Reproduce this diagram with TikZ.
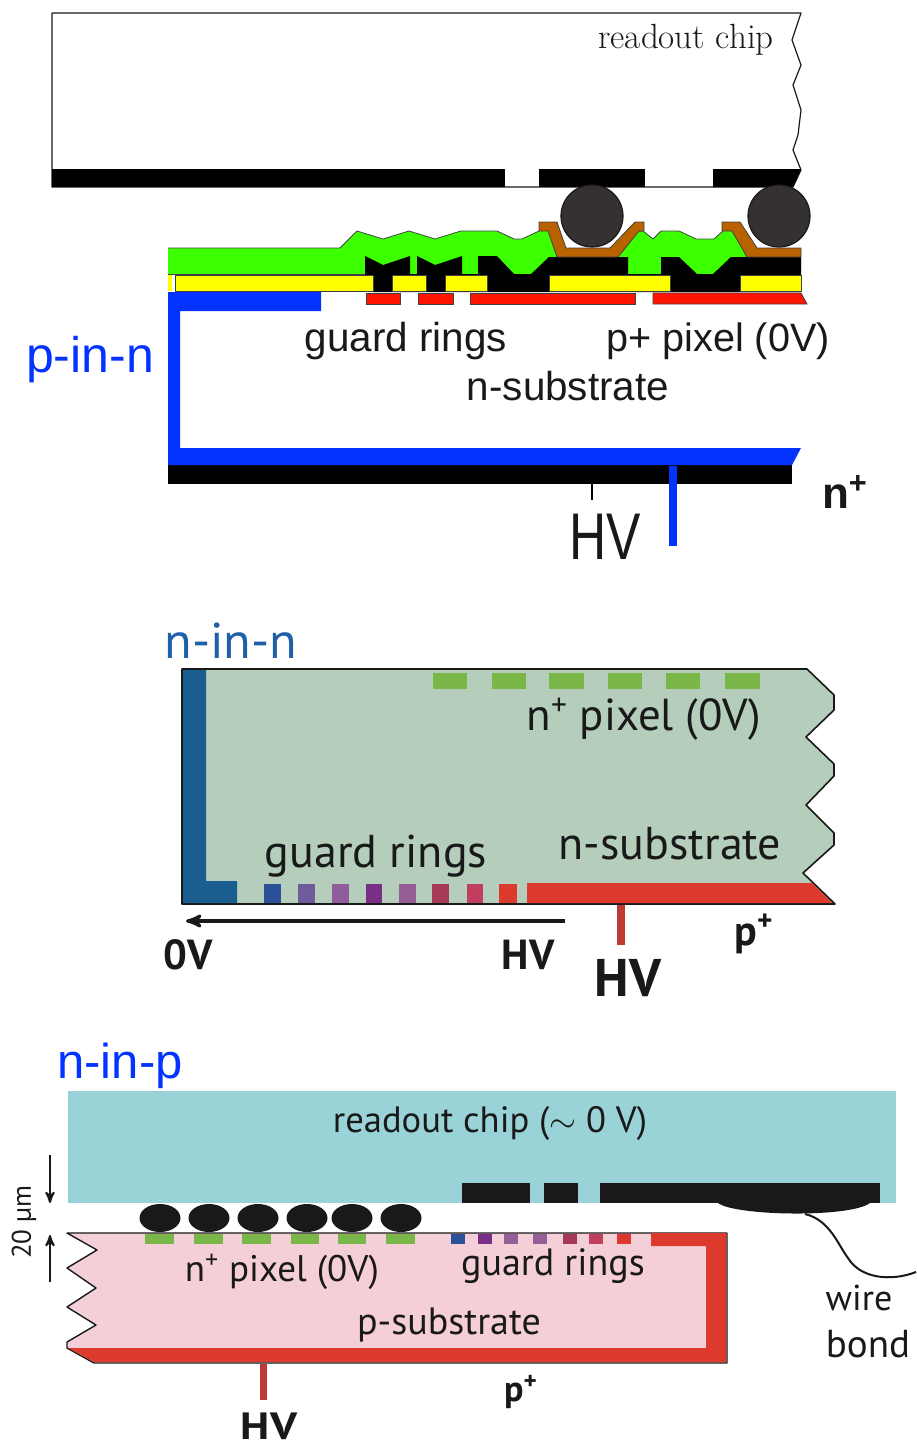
\documentclass[tikz,border=0pt]{standalone}
\usepackage{fontspec}
\setsansfont{Liberation Sans}
\newfontfamily\myriad{PT Sans}
\usetikzlibrary{arrows}

\definecolor{layergreen}{HTML}{3CFF00}
\definecolor{layeryellow}{HTML}{FFFF00}
\definecolor{layerred}{HTML}{FF1400}
\definecolor{layerblue}{HTML}{0433FF}
\definecolor{layerbrown}{HTML}{B86200}
\definecolor{ballgrey}{HTML}{353132}
\definecolor{nsub}{HTML}{B5CDBB}
\definecolor{nblue}{HTML}{1A5E90}
\definecolor{pixgreen}{HTML}{7AB648}
\definecolor{hvred}{HTML}{DC3A2C}
\definecolor{stemred}{HTML}{BE3A35}
\definecolor{chipcyan}{HTML}{99D3D7}
\definecolor{psub}{HTML}{F5CFD7}
\definecolor{ninnblue}{HTML}{2060A8}
\definecolor{guardA}{HTML}{2B5198}
\definecolor{guardB}{HTML}{6F5A9B}
\definecolor{guardC}{HTML}{8F5D9B}
\definecolor{guardD}{HTML}{7A2F86}
\definecolor{guardE}{HTML}{955E97}
\definecolor{guardF}{HTML}{A53A57}
\definecolor{guardG}{HTML}{C03F5E}

\begin{document}
\begin{tikzpicture}[>=stealth',x=0.5pt,y=-0.5pt]
    \tikzstyle{outline}=[draw=black!90,line width=0.8pt,line join=round]
    \tikzstyle{thinedge}=[draw=black!75,line width=0.4pt]
    \tikzstyle{solid black}=[fill=black]
    \tikzstyle{lab}=[inner sep=0pt,text=black!90]
    \tikzstyle{top}=[lab,font=\sffamily\fontsize{20.2}{20.2}\selectfont]
    \tikzstyle{low}=[lab,font=\myriad\fontsize{23}{23}\selectfont]
    \tikzstyle{small}=[lab,font=\myriad\fontsize{19}{19}\selectfont]
    \tikzstyle{low bold}=[lab,font=\myriad\bfseries\fontsize{21}{21}\selectfont]
    \tikzstyle{hv big}=[lab,font=\myriad\bfseries\fontsize{26.5}{26.5}\selectfont]
    \tikzstyle{kind}=[inner sep=0pt,font=\sffamily\fontsize{25}{25}\selectfont]
    \useasboundingbox (0,0) rectangle (916,1445);

    % p-in-n
    \path[outline,line width=0.6pt,fill=white] (52,13) -- (801,13) -- (792,40) -- (801,65) -- (793,85) -- (801,110)
    -- (798,135) -- (793,150) -- (801,170) -- (793,187) -- (52,187) -- cycle;
    \fill[solid black] (52,169) rectangle (505,187);
    \fill[solid black] (539,169) rectangle (645,187);
    \fill[solid black] (713,169) -- (801,169) -- (793,187) -- (713,187) -- cycle;
    \path[outline,line width=0.6pt,fill=ballgrey] (592,216) circle (31);
    \path[outline,line width=0.6pt,fill=ballgrey] (779,216) circle (31);
    \path[fill=layergreen] (168,248) -- (340,248) -- (357,231) -- (383,239) -- (409,231)
    -- (435,239) -- (461,231) -- (497,231) -- (514,239) -- (522,239) -- (539,231) -- (548,231)
    -- (557,257) -- (619,257) -- (635,231) -- (643,231) -- (653,239) -- (661,231) -- (679,231)
    -- (696,239) -- (714,239) -- (723,231) -- (732,231) -- (747,257) -- (801,257) -- (801,274)
    -- (168,274) -- cycle;
    \draw[thinedge] (168,248) -- (340,248) -- (357,231) -- (383,239) -- (409,231)
    -- (435,239) -- (461,231) -- (497,231) -- (514,239) -- (522,239) -- (539,231);
    \draw[thinedge] (635,231) -- (643,231) -- (653,239) -- (661,231) -- (679,231)
    -- (696,239) -- (714,239) -- (723,231);
    \draw[thinedge] (168,274) -- (365,274);
    \fill[solid black] (365,256) -- (383,265) -- (410,256) -- (410,275) -- (365,275) -- cycle;
    \fill[solid black] (417,256) -- (435,265) -- (462,256) -- (462,275) -- (417,275) -- cycle;
    \fill[solid black] (478,256) -- (497,256) -- (514,274) -- (531,274) -- (549,257) -- (628,257)
    -- (628,274) -- (661,274) -- (661,257) -- (679,257) -- (697,274) -- (713,274) -- (731,257)
    -- (801,257) -- (801,292) -- (373,292) -- (373,274) -- (478,274) -- cycle;
    \fill[layeryellow] (168,275) rectangle (172,291);
    \path[thinedge,fill=layeryellow] (175,275) rectangle (373,291);
    \path[thinedge,fill=layeryellow] (392,275) rectangle (426,291);
    \path[thinedge,fill=layeryellow] (445,275) rectangle (487,291);
    \path[thinedge,fill=layeryellow] (549,275) rectangle (670,291);
    \path[thinedge,fill=layeryellow] (740,275) rectangle (801,291);
    \path[thinedge,fill=layerbrown] (539,222) -- (557,222) -- (566,248) -- (610,248) -- (635,222)
    -- (644,222) -- (644,231) -- (639,231) -- (618,257) -- (557,257) -- (548,231) -- (539,231) -- cycle;
    \path[thinedge,fill=layerbrown] (722,222) -- (740,222) -- (757,248) -- (801,248) -- (801,257)
    -- (747,257) -- (732,231) -- (722,231) -- cycle;
    \path[thinedge,fill=layerred] (366,293) rectangle (400,304);
    \path[thinedge,fill=layerred] (418,293) rectangle (453,304);
    \path[thinedge,fill=layerred] (470,293) rectangle (635,304);
    \path[thinedge,fill=layerred] (653,293) -- (801,293) -- (807,304) -- (653,304) -- cycle;
    \fill[layerblue] (168,292) -- (321,292) -- (321,311) -- (180,311) -- (180,460) -- (168,460) -- cycle;
    \fill[solid black] (168,465) rectangle (792,484);
    \fill[layerblue] (168,448) -- (801,448) -- (792,465) -- (168,465) -- cycle;
    \fill[layerblue] (669,466) rectangle (677,546);
    \draw[black,line width=0.6pt] (592,484) -- (592,500);

    \node[lab,font=\fontsize{17.5}{17.5}\selectfont] (chip1) at (686,40) {readout chip};
    \node[top] (guard1) at (406,341) {guard rings};
    \node[top,font=\sffamily\fontsize{19.8}{19.8}\selectfont] (pixel1) at (718,341) {p+ pixel (0V)};
    \node[top] (sub1) at (568,386) {n-substrate};
    \node[kind,text=layerblue] (kind1) at (90,360) {p-in-n};
    \node[lab,font=\sffamily\bfseries\fontsize{22}{22}\selectfont] (nplus1) at (845,492) {n\textsuperscript{+}};
    \node[lab,font=\sffamily\fontsize{33}{33}\selectfont] (hv1) at (605,537) {\scalebox{0.78}[1]{HV}};

    % n-in-n
    \path[outline,fill=nsub] (182,669) -- (807,669) -- (834,695) -- (834,710) -- (806,737) -- (834,764)
    -- (834,776) -- (806,805) -- (834,833) -- (834,845) -- (803,873) -- (835,904) -- (182,904) -- cycle;
    \fill[nblue] (183,670) -- (206,670) -- (206,881) -- (237,881) -- (237,903) -- (183,903) -- cycle;
    \fill[pixgreen] (433,673) rectangle (467,689);
    \fill[pixgreen] (492,673) rectangle (526,689);
    \fill[pixgreen] (549,673) rectangle (584,689);
    \fill[pixgreen] (608,673) rectangle (642,689);
    \fill[pixgreen] (666,673) rectangle (700,689);
    \fill[pixgreen] (725,673) rectangle (760,689);
    \fill[guardA] (264,884) rectangle (281,903);
    \fill[guardB] (298,884) rectangle (315,903);
    \fill[guardC] (332,884) rectangle (349,903);
    \fill[guardD] (366,884) rectangle (382,903);
    \fill[guardE] (399,884) rectangle (416,903);
    \fill[guardF] (432,884) rectangle (449,903);
    \fill[guardG] (467,884) rectangle (483,903);
    \fill[hvred] (499,884) rectangle (517,903);
    \fill[hvred] (527,883) -- (812,883) -- (832,903) -- (527,903) -- cycle;
    \fill[stemred] (617,905) rectangle (625,945);

    \coordinate (arrow2a) at (565,921);
    \coordinate (arrow2b) at (186,921);
    \draw[->,black!90,line width=1.6pt] (arrow2a) -- (arrow2b);

    \node[kind,font=\myriad\fontsize{25.2}{25.2}\selectfont,text=ninnblue] (kind2) at (231,641) {n-in-n};
    \node[low,font=\myriad\fontsize{22.4}{22.4}\selectfont] (pixel2) at (644,719) {n\textsuperscript{+} pixel (0V)};
    \node[low] (guard2) at (376,856) {guard rings};
    \node[low] (sub2) at (670,844) {n-substrate};
    \node[low bold] (zero2) at (188,955) {0V};
    \node[low bold] (hv2a) at (528,955) {HV};
    \node[hv big] (hv2b) at (628,978) {HV};
    \node[low bold] (pplus2) at (754,934) {p\textsuperscript{+}};

    % n-in-p
    \fill[chipcyan] (68,1091) rectangle (896,1203);
    \fill[black!90] (462,1183) rectangle (530,1203);
    \fill[black!90] (544,1183) rectangle (578,1203);
    \fill[black!90] (600,1183) rectangle (880,1203);
    \fill[black!90] (718,1203) .. controls (735,1216) and (850,1218) .. (870,1203) -- cycle;
    \coordinate (wire3a) at (805,1214);
    \coordinate (wire3m) at (848,1258);
    \coordinate (wire3b) at (916,1272);
    \draw[black!90,line width=1pt] (wire3a) .. controls (830,1220) and (838,1245) .. (wire3m)
    .. controls (860,1278) and (890,1282) .. (wire3b);
    \fill[black!90] (160,1218) ellipse (20.5 and 14);
    \fill[black!90] (209,1218) ellipse (20.5 and 14);
    \fill[black!90] (258,1218) ellipse (20.5 and 14);
    \fill[black!90] (307,1218) ellipse (20.5 and 14);
    \fill[black!90] (352,1218) ellipse (20.5 and 14);
    \fill[black!90] (401,1218) ellipse (20.5 and 14);
    \path[outline,line width=0.7pt,fill=psub] (67,1233) -- (727,1233) -- (727,1363) -- (94,1363) -- (67,1348) -- (67,1342)
    -- (96,1325) -- (67,1307) -- (96,1288) -- (67,1268) -- (97,1250) -- cycle;
    \fill[hvred] (68,1348) -- (706,1348) -- (706,1246) -- (651,1246) -- (651,1233) -- (726,1233)
    -- (726,1362) -- (94,1362) -- cycle;
    \fill[pixgreen] (145,1234) rectangle (174,1244);
    \fill[pixgreen] (194,1234) rectangle (223,1244);
    \fill[pixgreen] (242,1234) rectangle (271,1244);
    \fill[pixgreen] (291,1234) rectangle (319,1244);
    \fill[pixgreen] (338,1234) rectangle (366,1244);
    \fill[pixgreen] (386,1234) rectangle (415,1244);
    \fill[guardA] (451,1234) rectangle (465,1244);
    \fill[guardD] (478,1234) rectangle (492,1244);
    \fill[guardE] (504,1234) rectangle (518,1244);
    \fill[guardE] (533,1234) rectangle (547,1244);
    \fill[guardF] (563,1234) rectangle (577,1244);
    \fill[guardG] (589,1234) rectangle (603,1244);
    \fill[hvred] (617,1234) rectangle (631,1244);
    \fill[stemred] (260,1364) rectangle (267,1400);

    \coordinate (gap3a) at (50,1155);
    \coordinate (gap3b) at (50,1203);
    \coordinate (gap3c) at (50,1282);
    \coordinate (gap3d) at (50,1235);
    \draw[->,black!90,line width=1pt] (gap3a) -- (gap3b);
    \draw[->,black!90,line width=1pt] (gap3c) -- (gap3d);

    \node[kind,font=\sffamily\fontsize{24.5}{24.5}\selectfont,text=layerblue] (kind3) at (120,1066) {n-in-p};
    \node[small,font=\myriad\fontsize{18.3}{18.3}\selectfont] (chip3) at (490,1123) {readout chip ($\sim$ 0 V)};
    \node[small,font=\myriad\fontsize{18.5}{18.5}\selectfont] (pixel3) at (282,1272) {n\textsuperscript{+} pixel (0V)};
    \node[small] (guard3) at (553,1266) {guard rings};
    \node[small] (sub3) at (449,1325) {p-substrate};
    \node[low bold,font=\myriad\bfseries\fontsize{18}{18}\selectfont] (pplus3) at (521,1392) {p\textsuperscript{+}};
    \node[low bold,font=\myriad\bfseries\fontsize{19}{19}\selectfont] (hv3) at (269,1426) {\scalebox{1.18}[1]{HV}};
    \node[small,font=\myriad\fontsize{18}{18}\selectfont] (wire3) at (859,1298) {wire};
    \node[small,font=\myriad\fontsize{19.5}{19.5}\selectfont] (bond3) at (868,1344) {bond};
    \node[lab,font=\myriad\fontsize{13.5}{13.5}\selectfont,rotate=90] (gap3) at (24,1222) {20 µm};
\end{tikzpicture}
\end{document}
